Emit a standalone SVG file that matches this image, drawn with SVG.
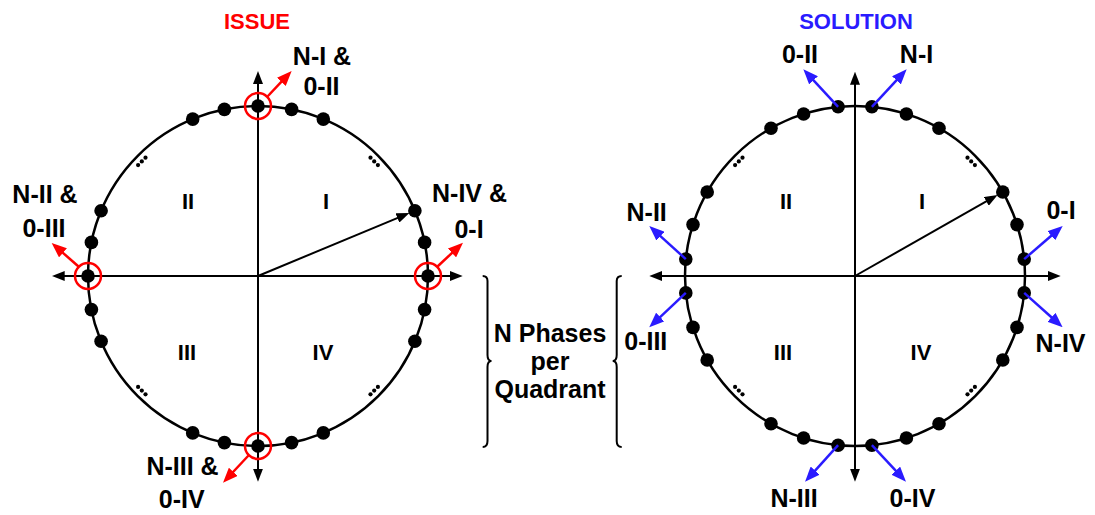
<svg xmlns="http://www.w3.org/2000/svg" width="1095" height="515" viewBox="0 0 1095 515">
<style>
text{font-family:"Liberation Sans",Arial,sans-serif;font-weight:bold;text-anchor:middle;fill:#000}
.lbl{font-size:25px}
.q{font-size:22px}
.ttl{font-size:22px}
.ring{fill:none;stroke:#000;stroke-width:2.5}
.ax{stroke:#000;stroke-width:2;fill:none}
.dot{fill:#000}
.el{fill:#000}
.red{stroke:#ff0000;stroke-width:2.5;fill:none}
.blue{stroke:#2a1bff;stroke-width:2.5;fill:none}
.hl{fill:none;stroke:#ff0000;stroke-width:2.5}
.br{fill:none;stroke:#000;stroke-width:2}
</style>
<defs>
<marker id="ab" markerWidth="13" markerHeight="10" refX="3" refY="5" orient="auto" markerUnits="userSpaceOnUse"><path d="M0,0 L13,5 L0,10 z" fill="#000"/></marker>
<marker id="ar" markerWidth="15" markerHeight="12" refX="3" refY="6" orient="auto" markerUnits="userSpaceOnUse"><path d="M0,0 L15,6 L0,12 z" fill="#ff0000"/></marker>
<marker id="au" markerWidth="15" markerHeight="12" refX="3" refY="6" orient="auto" markerUnits="userSpaceOnUse"><path d="M0,0 L15,6 L0,12 z" fill="#2a1bff"/></marker>
</defs>

<g id="issue">
<text class="ttl" x="257" y="29" style="fill:#ff0000">ISSUE</text>
<circle class="ring" cx="258" cy="276" r="170"/>
<g id="issue-axes">
<line class="ax" x1="258" y1="471.7" x2="258" y2="81" marker-end="url(#ab)"/>
<line class="ax" x1="258" y1="81" x2="258" y2="471.7" marker-end="url(#ab)"/>
<line class="ax" x1="258" y1="276" x2="452.7" y2="276" marker-end="url(#ab)"/>
<line class="ax" x1="258" y1="276" x2="61.7" y2="276" marker-end="url(#ab)"/>
<line class="ax" x1="258" y1="276" x2="400.2" y2="216.8" marker-end="url(#ab)"/>
</g>
<g id="issue-dots">
<circle class="dot" cx="428" cy="276" r="6.8"/>
<circle class="dot" cx="424.6" cy="242.4" r="6.8"/>
<circle class="dot" cx="414.9" cy="210.7" r="6.8"/>
<circle class="dot" cx="323.3" cy="119.1" r="6.8"/>
<circle class="dot" cx="291.6" cy="109.4" r="6.8"/>
<circle class="dot" cx="258" cy="106" r="6.8"/>
<circle class="dot" cx="224.4" cy="109.4" r="6.8"/>
<circle class="dot" cx="192.7" cy="119.1" r="6.8"/>
<circle class="dot" cx="101.1" cy="210.7" r="6.8"/>
<circle class="dot" cx="91.4" cy="242.4" r="6.8"/>
<circle class="dot" cx="88" cy="276" r="6.8"/>
<circle class="dot" cx="91.4" cy="309.6" r="6.8"/>
<circle class="dot" cx="101.1" cy="341.3" r="6.8"/>
<circle class="dot" cx="192.7" cy="432.9" r="6.8"/>
<circle class="dot" cx="224.4" cy="442.6" r="6.8"/>
<circle class="dot" cx="258" cy="446" r="6.8"/>
<circle class="dot" cx="291.6" cy="442.6" r="6.8"/>
<circle class="dot" cx="323.3" cy="432.9" r="6.8"/>
<circle class="dot" cx="414.9" cy="341.3" r="6.8"/>
<circle class="dot" cx="424.6" cy="309.6" r="6.8"/>
</g>
<g id="issue-ellipses">
<circle class="el" cx="370.5" cy="157.7" r="2.1"/><circle class="el" cx="374.2" cy="161.4" r="2.1"/><circle class="el" cx="377.9" cy="165.1" r="2.1"/>
<circle class="el" cx="145.5" cy="157.7" r="2.1"/><circle class="el" cx="141.8" cy="161.4" r="2.1"/><circle class="el" cx="138.1" cy="165.1" r="2.1"/>
<circle class="el" cx="145.5" cy="394.3" r="2.1"/><circle class="el" cx="141.8" cy="390.6" r="2.1"/><circle class="el" cx="138.1" cy="386.9" r="2.1"/>
<circle class="el" cx="370.5" cy="394.3" r="2.1"/><circle class="el" cx="374.2" cy="390.6" r="2.1"/><circle class="el" cx="377.9" cy="386.9" r="2.1"/>
</g>
<g id="issue-highlights">
<circle class="hl" cx="258" cy="106" r="13"/>
<circle class="hl" cx="88" cy="276" r="13"/>
<circle class="hl" cx="428" cy="276" r="13"/>
<circle class="hl" cx="258" cy="446" r="13"/>
<line class="red" x1="267.5" y1="96.5" x2="283.4" y2="79.7" marker-end="url(#ar)"/>
<line class="red" x1="78.5" y1="266.5" x2="60.7" y2="250.9" marker-end="url(#ar)"/>
<line class="red" x1="437.5" y1="266.5" x2="454.2" y2="250.9" marker-end="url(#ar)"/>
<line class="red" x1="248.5" y1="455.5" x2="231.2" y2="474" marker-end="url(#ar)"/>
</g>
<g id="issue-labels">
<text class="lbl" x="322" y="65">N-I &amp;</text>
<text class="lbl" x="321.5" y="95">0-II</text>
<text class="lbl" x="45" y="203">N-II &amp;</text>
<text class="lbl" x="44" y="236.5">0-III</text>
<text class="lbl" x="469.5" y="201.7">N-IV &amp;</text>
<text class="lbl" x="469" y="238">0-I</text>
<text class="lbl" x="182.5" y="475">N-III &amp;</text>
<text class="lbl" x="181.7" y="508">0-IV</text>
<text class="q" x="188" y="209">II</text>
<text class="q" x="326" y="209">I</text>
<text class="q" x="187" y="360">III</text>
<text class="q" x="323" y="360">IV</text>
</g>
</g>

<g id="bracket">
<path class="br" d="M482.7,276 Q487.5,276 487.5,281 L487.5,355 Q487.5,361 491.5,361 Q487.5,361 487.5,367 L487.5,441 Q487.5,447 482.7,447"/>
<path class="br" d="M621.7,276 Q616.7,276 616.7,281 L616.7,355 Q616.7,361 612.7,361 Q616.7,361 616.7,367 L616.7,441 Q616.7,447 621.7,447"/>
<text class="lbl" x="550" y="342">N Phases</text>
<text class="lbl" x="550" y="370">per</text>
<text class="lbl" x="550" y="398">Quadrant</text>
</g>

<g id="solution">
<text class="ttl" x="856" y="29" style="fill:#2a1bff">SOLUTION</text>
<circle class="ring" cx="855" cy="276" r="170"/>
<g id="solution-axes">
<line class="ax" x1="855" y1="471.7" x2="855" y2="81.7" marker-end="url(#ab)"/>
<line class="ax" x1="855" y1="81.7" x2="855" y2="471.7" marker-end="url(#ab)"/>
<line class="ax" x1="855" y1="276" x2="1050.7" y2="276" marker-end="url(#ab)"/>
<line class="ax" x1="855" y1="276" x2="659.3" y2="276" marker-end="url(#ab)"/>
<line class="ax" x1="855" y1="276" x2="988.9" y2="199.9" marker-end="url(#ab)"/>
</g>
<g id="solution-dots">
<circle class="dot" cx="1024.2" cy="259.1" r="6.8"/>
<circle class="dot" cx="1017" cy="224.6" r="6.8"/>
<circle class="dot" cx="1002.8" cy="192" r="6.8"/>
<circle class="dot" cx="939" cy="128.2" r="6.8"/>
<circle class="dot" cx="906.4" cy="114" r="6.8"/>
<circle class="dot" cx="871.9" cy="106.8" r="6.8"/>
<circle class="dot" cx="838.1" cy="106.8" r="6.8"/>
<circle class="dot" cx="803.6" cy="114" r="6.8"/>
<circle class="dot" cx="771" cy="128.2" r="6.8"/>
<circle class="dot" cx="707.2" cy="192" r="6.8"/>
<circle class="dot" cx="693" cy="224.6" r="6.8"/>
<circle class="dot" cx="685.8" cy="259.1" r="6.8"/>
<circle class="dot" cx="685.8" cy="292.9" r="6.8"/>
<circle class="dot" cx="693" cy="327.4" r="6.8"/>
<circle class="dot" cx="707.2" cy="360" r="6.8"/>
<circle class="dot" cx="771" cy="423.8" r="6.8"/>
<circle class="dot" cx="803.6" cy="438" r="6.8"/>
<circle class="dot" cx="838.1" cy="445.2" r="6.8"/>
<circle class="dot" cx="871.9" cy="445.2" r="6.8"/>
<circle class="dot" cx="906.4" cy="438" r="6.8"/>
<circle class="dot" cx="939" cy="423.8" r="6.8"/>
<circle class="dot" cx="1002.8" cy="360" r="6.8"/>
<circle class="dot" cx="1017" cy="327.4" r="6.8"/>
<circle class="dot" cx="1024.2" cy="292.9" r="6.8"/>
</g>
<g id="solution-ellipses">
<circle class="el" cx="967.5" cy="157.7" r="2.1"/><circle class="el" cx="971.2" cy="161.4" r="2.1"/><circle class="el" cx="974.9" cy="165.1" r="2.1"/>
<circle class="el" cx="742.5" cy="157.7" r="2.1"/><circle class="el" cx="738.8" cy="161.4" r="2.1"/><circle class="el" cx="735.1" cy="165.1" r="2.1"/>
<circle class="el" cx="742.5" cy="394.3" r="2.1"/><circle class="el" cx="738.8" cy="390.6" r="2.1"/><circle class="el" cx="735.1" cy="386.9" r="2.1"/>
<circle class="el" cx="967.5" cy="394.3" r="2.1"/><circle class="el" cx="971.2" cy="390.6" r="2.1"/><circle class="el" cx="974.9" cy="386.9" r="2.1"/>
</g>
<g id="solution-arrows">
<line class="blue" x1="871.9" y1="106.8" x2="898.5" y2="78.1" marker-end="url(#au)"/>
<line class="blue" x1="838.1" y1="106.8" x2="811.5" y2="78.1" marker-end="url(#au)"/>
<line class="blue" x1="685.8" y1="259.1" x2="658.2" y2="234.1" marker-end="url(#au)"/>
<line class="blue" x1="685.8" y1="292.9" x2="658" y2="319.1" marker-end="url(#au)"/>
<line class="blue" x1="1024.2" y1="259.1" x2="1053.6" y2="233.8" marker-end="url(#au)"/>
<line class="blue" x1="1024.2" y1="292.9" x2="1053.7" y2="319.3" marker-end="url(#au)"/>
<line class="blue" x1="838.1" y1="445.2" x2="813.1" y2="472.8" marker-end="url(#au)"/>
<line class="blue" x1="871.9" y1="445.2" x2="897.8" y2="472.9" marker-end="url(#au)"/>
</g>
<g id="solution-labels">
<text class="lbl" x="800" y="63">0-II</text>
<text class="lbl" x="916.5" y="63">N-I</text>
<text class="lbl" x="646.7" y="220.5">N-II</text>
<text class="lbl" x="645.8" y="350">0-III</text>
<text class="lbl" x="1061" y="219.3">0-I</text>
<text class="lbl" x="1060.5" y="351.5">N-IV</text>
<text class="lbl" x="794" y="507">N-III</text>
<text class="lbl" x="912.5" y="507">0-IV</text>
<text class="q" x="786" y="209">II</text>
<text class="q" x="922" y="209">I</text>
<text class="q" x="783" y="360">III</text>
<text class="q" x="921" y="360">IV</text>
</g>
</g>
</svg>
